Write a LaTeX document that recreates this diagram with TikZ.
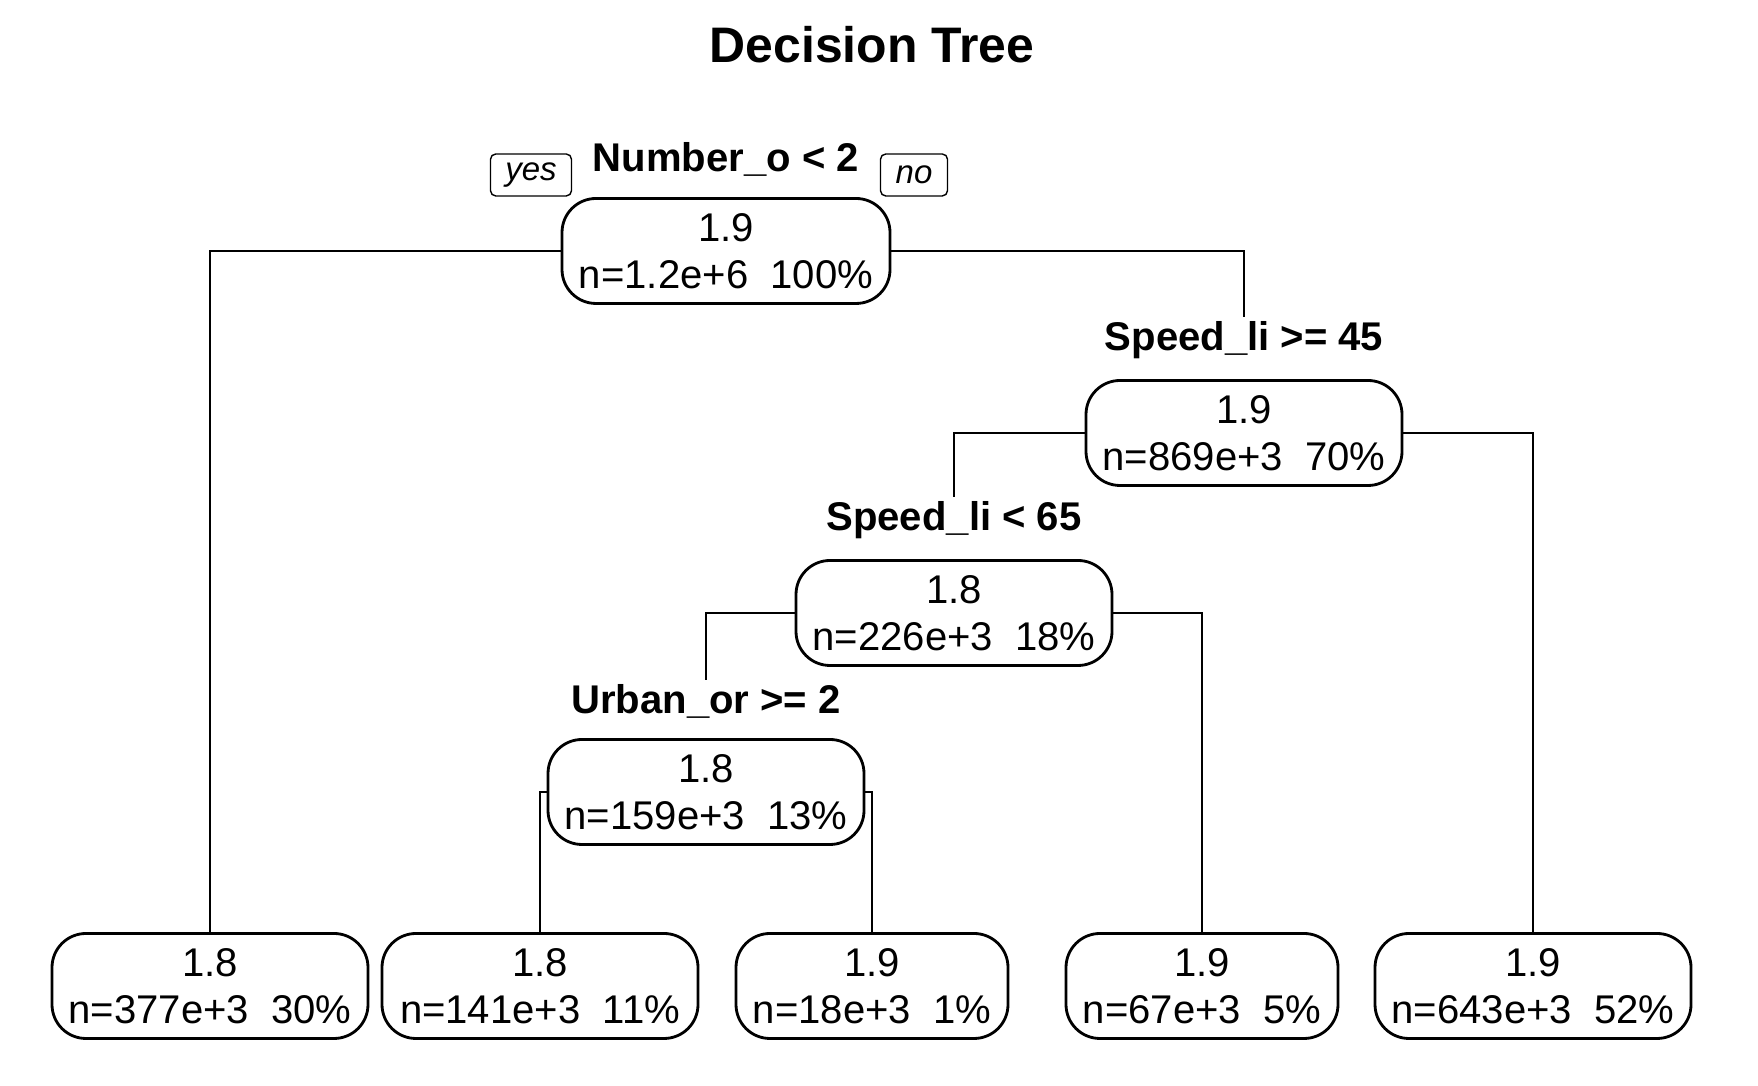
\documentclass[tikz,border=0pt]{standalone}
\usepackage{fontspec}
\setmainfont{Liberation Sans}
\usetikzlibrary{positioning}

\tikzset{
  treebox/.style={draw, thick, rounded corners=0.34cm, minimum width=3.16cm,
    minimum height=1.05cm, inner sep=0pt, align=center,
    font=\fontsize{11.4}{13.4}\selectfont},
  leafbox/.style={treebox, minimum width=2.72cm},
  splitlabel/.style={inner sep=0pt, font=\fontsize{11.4}{13.4}\selectfont\bfseries},
  yesno/.style={draw, rounded corners=1.5pt, minimum width=0.81cm, minimum height=0.42cm,
    inner sep=0pt, font=\fontsize{9.4}{11}\selectfont\itshape},
  branch/.style={thick}
}

\begin{document}
\begin{tikzpicture}
\useasboundingbox (0,0) rectangle (17.58,10.86);

% title
\node [font=\fontsize{14.2}{17}\selectfont\bfseries] (title) at (8.72,10.41) {Decision Tree};

% root split
\node [treebox, minimum width=3.28cm] (root) at (7.26,8.35) {1.9\\n=1.2e+6~~100\%};
\node [splitlabel] (lroot) at (7.26,9.27) {Number\_o < 2};
\node [yesno] (yes) at (5.31,9.11) {yes};
\node [yesno, minimum width=0.67cm] (no) at (9.14,9.11) {no};

% inner splits
\node [treebox] (sp45) at (12.44,6.53) {1.9\\n=869e+3~~70\%};
\node [splitlabel] (lsp45) at (12.44,7.46) {Speed\_li >= 45};

\node [treebox] (sp65) at (9.54,4.73) {1.8\\n=226e+3~~18\%};
\node [splitlabel] (lsp65) at (9.54,5.66) {Speed\_li < 65};

\node [treebox] (urban) at (7.06,2.94) {1.8\\n=159e+3~~13\%};
\node [splitlabel] (lurban) at (7.06,3.85) {Urban\_or >= 2};

% leaves
\node [treebox] (leafa) at (2.10,1.00) {1.8\\n=377e+3~~30\%};
\node [treebox] (leafb) at (5.40,1.00) {1.8\\n=141e+3~~11\%};
\node [leafbox] (leafc) at (8.72,1.00) {1.9\\n=18e+3~~1\%};
\node [leafbox] (leafd) at (12.02,1.00) {1.9\\n=67e+3~~5\%};
\node [treebox] (leafe) at (15.33,1.00) {1.9\\n=643e+3~~52\%};

% branches
\draw [branch] (root.west) -| (leafa.north);
\draw [branch] (root.east) -| ([yshift=1pt]lsp45.north);
\draw [branch] (sp45.west) -| ([yshift=1pt]lsp65.north);
\draw [branch] (sp45.east) -| (leafe.north);
\draw [branch] (sp65.west) -| ([yshift=1pt]lurban.north);
\draw [branch] (sp65.east) -| (leafd.north);
\draw [branch] (urban.west) -| (leafb.north);
\draw [branch] (urban.east) -| (leafc.north);

\end{tikzpicture}
\end{document}
